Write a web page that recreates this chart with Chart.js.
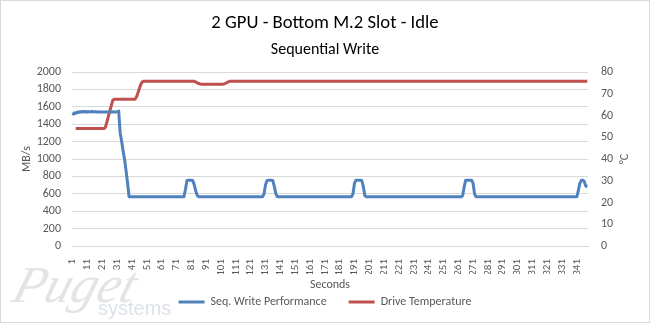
<!DOCTYPE html>
<html>
<head>
<meta charset="utf-8">
<title>2 GPU - Bottom M.2 Slot - Idle</title>
<script src="https://cdn.jsdelivr.net/npm/chart.js@4.4.1/dist/chart.umd.min.js"></script>
<style>
html,body{margin:0;padding:0;background:#fff}
#wrap{width:650px;height:323px}
canvas{display:block}
</style>
</head>
<body>
<div id="wrap"><canvas id="chart" width="650" height="323"></canvas></div>
<script>
const TITLE = '2 GPU - Bottom M.2 Slot - Idle';
const SUBTITLE = 'Sequential Write';
const FONT = 'Carlito, Lato, sans-serif';
const BLUE = '#4f81bd', RED = '#c0504d', GRID = '#d9d9d9', TXT = '#595959';

// MB/s, one value per second (1..348)
const writeSpeed = [
  1503,1530,1525,1540,1535,1545,1538,1548,1540,1546,
  1538,1545,1540,1548,1541,1545,1540,1542,1540,1541,
  1540,1541,1540,1540,1541,1540,1540,1542,1540,1541,
  1545,1550,1300,1200,1090,990,860,720,566,566,
  566,566,566,566,566,566,566,566,566,566,
  566,566,566,566,566,566,566,566,566,566,
  566,566,566,566,566,566,566,566,566,566,
  566,566,566,566,566,566,650,750,757,757,
  757,750,700,630,580,566,566,566,566,566,
  566,566,566,566,566,566,566,566,566,566,
  566,566,566,566,566,566,566,566,566,566,
  566,566,566,566,566,566,566,566,566,566,
  566,566,566,566,566,566,566,566,566,600,
  700,750,757,757,757,750,680,600,566,566,
  566,566,566,566,566,566,566,566,566,566,
  566,566,566,566,566,566,566,566,566,566,
  566,566,566,566,566,566,566,566,566,566,
  566,566,566,566,566,566,566,566,566,566,
  566,566,566,566,566,566,566,566,566,600,
  720,757,757,757,757,750,680,580,566,566,
  566,566,566,566,566,566,566,566,566,566,
  566,566,566,566,566,566,566,566,566,566,
  566,566,566,566,566,566,566,566,566,566,
  566,566,566,566,566,566,566,566,566,566,
  566,566,566,566,566,566,566,566,566,566,
  566,566,566,566,566,566,566,566,566,566,
  566,566,566,580,680,755,757,757,757,757,
  720,600,566,566,566,566,566,566,566,566,
  566,566,566,566,566,566,566,566,566,566,
  566,566,566,566,566,566,566,566,566,566,
  566,566,566,566,566,566,566,566,566,566,
  566,566,566,566,566,566,566,566,566,566,
  566,566,566,566,566,566,566,566,566,566,
  566,566,566,566,566,566,566,566,566,566,
  566,640,720,755,757,740,690,680
];

// °C, one value per second (1..348)
const driveTemp = [
  null,null,54,54,54,54,54,54,54,54,
  54,54,54,54,54,54,54,54,54,54,
  54,54,54.5,57,59.5,62,64.5,67,67.5,67.5,
  67.5,67.5,67.5,67.5,67.5,67.5,67.5,67.5,67.5,67.5,
  67.5,67.5,67.5,68.5,70.5,72.5,74.5,75.5,75.8,75.8,
  75.8,75.8,75.8,75.8,75.8,75.8,75.8,75.8,75.8,75.8,
  75.8,75.8,75.8,75.8,75.8,75.8,75.8,75.8,75.8,75.8,
  75.8,75.8,75.8,75.8,75.8,75.8,75.8,75.8,75.8,75.8,
  75.8,75.8,75.7,75.4,75,74.7,74.5,74.4,74.4,74.4,
  74.4,74.4,74.4,74.4,74.4,74.4,74.4,74.4,74.4,74.4,
  74.4,74.4,74.5,74.8,75.2,75.5,75.7,75.8,75.8,75.8,
  75.8,75.8,75.8,75.8,75.8,75.8,75.8,75.8,75.8,75.8,
  75.8,75.8,75.8,75.8,75.8,75.8,75.8,75.8,75.8,75.8,
  75.8,75.8,75.8,75.8,75.8,75.8,75.8,75.8,75.8,75.8,
  75.8,75.8,75.8,75.8,75.8,75.8,75.8,75.8,75.8,75.8,
  75.8,75.8,75.8,75.8,75.8,75.8,75.8,75.8,75.8,75.8,
  75.8,75.8,75.8,75.8,75.8,75.8,75.8,75.8,75.8,75.8,
  75.8,75.8,75.8,75.8,75.8,75.8,75.8,75.8,75.8,75.8,
  75.8,75.8,75.8,75.8,75.8,75.8,75.8,75.8,75.8,75.8,
  75.8,75.8,75.8,75.8,75.8,75.8,75.8,75.8,75.8,75.8,
  75.8,75.8,75.8,75.8,75.8,75.8,75.8,75.8,75.8,75.8,
  75.8,75.8,75.8,75.8,75.8,75.8,75.8,75.8,75.8,75.8,
  75.8,75.8,75.8,75.8,75.8,75.8,75.8,75.8,75.8,75.8,
  75.8,75.8,75.8,75.8,75.8,75.8,75.8,75.8,75.8,75.8,
  75.8,75.8,75.8,75.8,75.8,75.8,75.8,75.8,75.8,75.8,
  75.8,75.8,75.8,75.8,75.8,75.8,75.8,75.8,75.8,75.8,
  75.8,75.8,75.8,75.8,75.8,75.8,75.8,75.8,75.8,75.8,
  75.8,75.8,75.8,75.8,75.8,75.8,75.8,75.8,75.8,75.8,
  75.8,75.8,75.8,75.8,75.8,75.8,75.8,75.8,75.8,75.8,
  75.8,75.8,75.8,75.8,75.8,75.8,75.8,75.8,75.8,75.8,
  75.8,75.8,75.8,75.8,75.8,75.8,75.8,75.8,75.8,75.8,
  75.8,75.8,75.8,75.8,75.8,75.8,75.8,75.8,75.8,75.8,
  75.8,75.8,75.8,75.8,75.8,75.8,75.8,75.8,75.8,75.8,
  75.8,75.8,75.8,75.8,75.8,75.8,75.8,75.8,75.8,75.8,
  75.8,75.8,75.8,75.8,75.8,75.8,75.8,75.8
];

const seconds = writeSpeed.map((_, i) => String(i + 1));
const tickLabels = ['1','11','21','31','41','51','61','71','81','91','101','111','121','131','141','151','161','171',
  '181','191','201','211','221','231','241','251','261','271','281','291','301','311','321','331','341'];

// frame, watermark and the right axis title (Excel rotates it like the left one)
const extras = {
  id: 'extras',
  beforeDraw(c){
    const x = c.ctx;
    x.save();
    x.textAlign = 'left'; x.textBaseline = 'alphabetic';
    x.fillStyle = '#e4e4e4';
    x.setTransform(1, 0, -0.3, 1, 0, 0);
    x.font = 'italic 52px "Liberation Serif"';
    x.fillText('Puget', 10 + 0.3 * 302, 302);
    x.setTransform(1, 0, 0, 1, 0, 0);
    x.fillStyle = '#dde2ea';
    x.font = '20px "Liberation Sans"';
    x.fillText('systems', 98, 315);
    x.restore();
  },
  afterDraw(c){
    const x = c.ctx, a = c.chartArea;
    x.save();
    x.strokeStyle = GRID; x.lineWidth = 1;
    x.strokeRect(0.5, 0.5, 649, 322);
    x.translate(625, (a.top + a.bottom) / 2);
    x.rotate(-Math.PI / 2);
    x.fillStyle = TXT; x.font = '12px ' + FONT;
    x.textAlign = 'center'; x.textBaseline = 'middle';
    x.fillText('°C', 0, 0);
    x.restore();
  }
};

new Chart(document.getElementById('chart'), {
  type: 'line',
  data: {
    labels: seconds,
    datasets: [
      {label:'Seq. Write Performance', data:writeSpeed, yAxisID:'y', borderColor:BLUE, backgroundColor:BLUE, borderWidth:3, pointRadius:0, borderJoinStyle:'round', borderCapStyle:'butt'},
      {label:'Drive Temperature', data:driveTemp, yAxisID:'y1', borderColor:RED, backgroundColor:RED, borderWidth:3, pointRadius:0, borderJoinStyle:'round', borderCapStyle:'butt'}
    ]
  },
  options: {
    responsive: false,
    animation: false,
    layout: {padding:{top:0, right:0, bottom:5, left:0}},
    plugins: {
      title: {display:true, text:TITLE, color:'#000', font:{family:FONT, size:18.67, weight:'normal'}, padding:{top:12, bottom:0}},
      subtitle: {display:true, text:SUBTITLE, color:'#000', font:{family:FONT, size:16, weight:'normal'}, padding:{top:6, bottom:12.4}},
      legend: {position:'bottom', labels:{color:TXT, font:{family:FONT, size:12}, usePointStyle:true, pointStyle:'line', pointStyleWidth:26, boxWidth:26, boxHeight:3, padding:22}},
      tooltip: {enabled:false}
    },
    scales: {
      x: {
        offset: true,
        grid: {display:false},
        border: {color:GRID},
        ticks: {autoSkip:false, maxRotation:90, minRotation:90, padding:5, color:TXT, font:{family:FONT, size:11},
          callback(v){ const l = this.getLabelForValue(v); return tickLabels.includes(l) ? l : ''; }},
        title: {display:true, text:'Seconds', color:TXT, font:{family:FONT, size:12}, padding:{top:0, bottom:-18.5}},
        afterFit(s){ s.height = 28; }
      },
      y: {
        position: 'left', min:0, max:2000,
        grid: {color:GRID, drawTicks:false},
        border: {display:false},
        ticks: {stepSize:200, autoSkip:false, padding:11, color:TXT, font:{family:FONT, size:12}, callback: v => String(v)},
        title: {display:true, text:'MB/s', color:TXT, font:{family:FONT, size:12}, padding:{top:19.5, bottom:0}},
        afterFit(s){ s.width = 72; }
      },
      y1: {
        position: 'right', min:0, max:80,
        grid: {display:false, drawTicks:false},
        border: {display:false},
        ticks: {stepSize:10, autoSkip:false, padding:13, color:TXT, font:{family:FONT, size:12}, callback: v => String(v)},
        afterFit(s){ s.width = 62; }
      }
    }
  },
  plugins: [extras]
});
</script>
</body>
</html>
